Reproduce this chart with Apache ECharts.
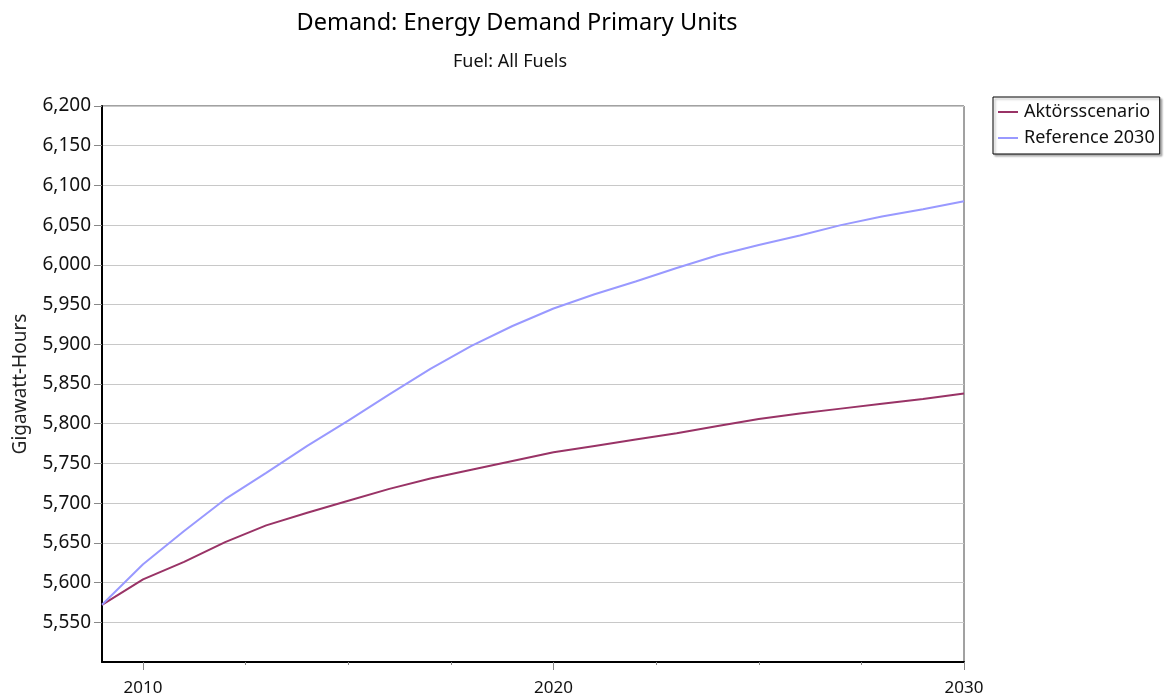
<!DOCTYPE html>
<html>
<head>
<meta charset="utf-8">
<script src="https://cdn.jsdelivr.net/npm/echarts@6/dist/echarts.min.js"></script>
<style>html,body{margin:0;padding:0;background:#fff;}#c{width:1165px;height:700px;}</style>
</head>
<body>
<div id="c"></div>
<script>
const years = [2009,2010,2011,2012,2013,2014,2015,2016,2017,2018,2019,2020,2021,2022,2023,2024,2025,2026,2027,2028,2029,2030];
const aktorsscenario = [5572,5604,5626,5651,5672,5688,5703,5718,5731,5742,5753,5764,5772,5780,5788,5797,5806,5813,5819,5825,5831,5838];
const reference2030 = [5572,5623,5665,5705,5738,5772,5804,5837,5869,5898,5923,5945,5963,5979,5996,6012,6025,6037,6050,6061,6070,6080];
const xMajorTicks = [2010,2020,2030];
const xMinorTicks = [2012.5,2015,2017.5,2022.5,2025,2027.5];
const yTicks = [5550,5600,5650,5700,5750,5800,5850,5900,5950,6000,6050,6100,6150,6200];
const seriesNames = ['Aktörsscenario','Reference 2030'];

const FONT = 'Noto Sans';
const chart = echarts.init(document.getElementById('c'));
const pair = (xs, ys) => xs.map((x,i)=>[x, ys[i]]);
chart.setOption({
  animation: false,
  textStyle: {fontFamily: FONT},
  title: [
    {text: 'Demand: Energy Demand Primary Units', left: 512, top: 6, textAlign: 'center',
     textStyle: {fontFamily: FONT, fontSize: 23.5, fontWeight: 'normal', color: '#000'}},
    {text: 'Fuel: All Fuels', left: 505, top: 48, textAlign: 'center',
     textStyle: {fontFamily: FONT, fontSize: 18, fontWeight: 'normal', color: '#111'}}
  ],
  legend: {
    orient: 'vertical', left: 993, top: 97, data: seriesNames,
    padding: [6, 5, 7, 5], itemGap: 8, itemWidth: 20, itemHeight: 2, icon: 'rect',
    borderColor: '#000', borderWidth: 1, backgroundColor: '#fff',
    shadowColor: 'rgba(0,0,0,0.3)', shadowOffsetX: 2, shadowOffsetY: 2, shadowBlur: 2,
    textStyle: {fontFamily: FONT, fontSize: 18, color: '#111', padding: [0,0,0,1]}
  },
  grid: {left: 102, right: 201, top: 106, bottom: 38, show: true, borderColor: '#444', borderWidth: 1,
         containLabel: false, outerBoundsMode: 'none'},
  xAxis: [
    {type: 'value', min: 2009, max: 2030,
     axisLine: {show: true, onZero: false, lineStyle: {color: '#000', width: 2}},
     axisTick: {show: true, customValues: xMajorTicks, length: 8, lineStyle: {color: '#888', width: 1}},
     axisLabel: {customValues: xMajorTicks, fontFamily: FONT, fontSize: 17, color: '#111', margin: 18,
       formatter: v => String(v)},
     splitLine: {show: false}},
    {type: 'value', min: 2009, max: 2030, position: 'bottom',
     axisLine: {show: false},
     axisTick: {show: true, customValues: xMinorTicks, length: 3, lineStyle: {color: '#888', width: 1}},
     axisLabel: {show: false}, splitLine: {show: false}}
  ],
  yAxis: {
    type: 'value', min: 5500, max: 6200, interval: 50,
    name: 'Gigawatt-Hours', nameLocation: 'middle', nameGap: 72, nameRotate: 90,
    nameTextStyle: {fontFamily: FONT, fontSize: 19, color: '#222'},
    axisLine: {show: true, lineStyle: {color: '#000', width: 2}},
    axisTick: {show: true, customValues: yTicks, length: 8, lineStyle: {color: '#888'}},
    axisLabel: {customValues: yTicks, fontFamily: FONT, fontSize: 19, color: '#111', margin: 11,
      formatter: v => v.toLocaleString('en-US')},
    splitLine: {show: true, lineStyle: {color: '#c8c8c8', width: 1}}
  },
  series: [
    {name: seriesNames[0], type: 'line', data: pair(years, aktorsscenario), symbol: 'none',
     lineStyle: {color: '#993366', width: 2}, itemStyle: {color: '#993366'}},
    {name: seriesNames[1], type: 'line', data: pair(years, reference2030), symbol: 'none',
     lineStyle: {color: '#9999ff', width: 2}, itemStyle: {color: '#9999ff'}}
  ]
});
</script>
</body>
</html>
